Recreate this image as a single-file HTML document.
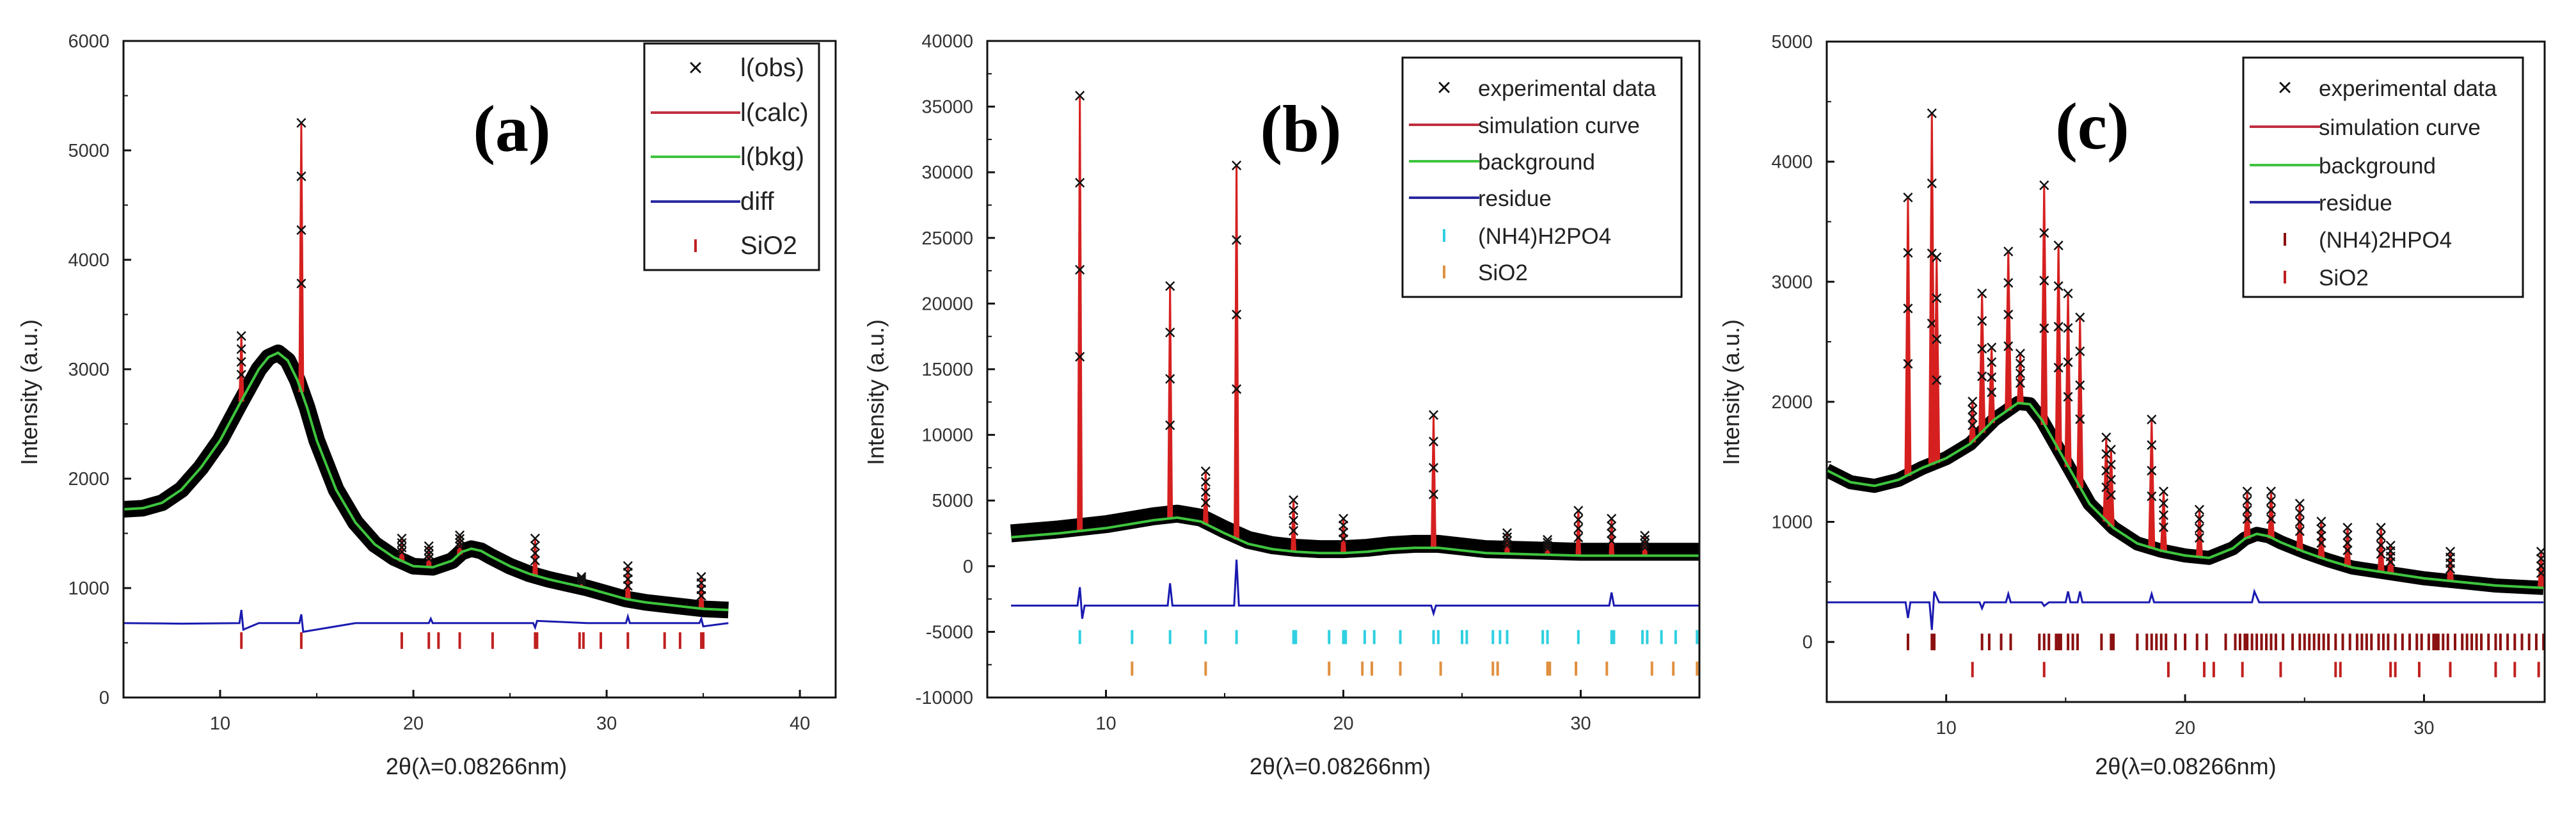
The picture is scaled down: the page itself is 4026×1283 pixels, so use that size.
<!DOCTYPE html>
<html><head><meta charset="utf-8"><style>
html,body{margin:0;padding:0;background:#fff;}
svg{display:block;font-family:"Liberation Sans",sans-serif;}
</style></head><body>
<svg id="fig" xmlns="http://www.w3.org/2000/svg" width="4026" height="1283" viewBox="0 0 4026 1283"></svg>
<script>
// ---------- Panel (a) data ----------
const aBkgX=[5,6,7,8,9,10,11,12,12.5,13,13.5,14,14.5,15,16,17,18,19,20,21,22,22.5,23,23.5,24,25,26,27,28,29,30,31,32,33,34,35,36.3];
const aBkgY=[1720,1730,1780,1900,2100,2350,2680,3000,3110,3150,3080,2900,2650,2350,1900,1600,1400,1280,1200,1190,1250,1330,1360,1340,1290,1200,1130,1080,1040,1000,950,900,870,850,830,810,800];
const aPeakX=[11.1,14.2,19.4,20.8,22.4,26.3,28.7,31.1,34.9];
const aPeakY=[3300,5250,1450,1380,1480,1450,1100,1200,1100];
const aDiffX=[5,8,11.0,11.1,11.2,12,14.1,14.2,14.3,17,20.8,20.9,21,26.2,26.3,26.4,29,31.0,31.1,31.2,34.8,34.9,35.0,36.3];
const aDiffY=[680,675,680,800,620,680,680,760,600,680,680,720,680,680,640,700,680,680,740,680,680,720,650,680];
const aTick1=[11.1,14.2,19.4,20.8,21.3,22.4,24.1,26.3,26.4,28.6,28.8,29.7,31.1,33.0,33.8,34.9,35.0];
const aYTicks=[0,1000,2000,3000,4000,5000,6000];
const aXTicks=[10,20,30,40];
// ---------- Panel (b) data ----------
const bBkgX=[6,8,10,12,13,14,15,16,17,18,19,20,21,22,23,24,25,26,28,30,32,35];
const bBkgY=[2200,2500,2900,3500,3700,3400,2500,1700,1300,1100,1000,1000,1100,1300,1400,1400,1200,1000,900,800,800,800];
const bPeakX=[8.9,12.7,14.2,15.5,17.9,20.0,23.8,26.9,28.6,29.9,31.3,32.7];
const bPeakY=[35800,21300,7200,30500,5000,3600,11500,2500,2000,4200,3600,2300];
const bDiffX=[6,8.8,8.9,9.0,9.1,12.6,12.7,12.8,15.4,15.5,15.6,23.7,23.8,23.9,31.2,31.3,31.4,35];
const bDiffY=[-3000,-3000,-1600,-4000,-3000,-3000,-1300,-3000,-3000,500,-3000,-3000,-3600,-3000,-3000,-2000,-3000,-3000];
const bTick1=[8.9,11.1,12.7,14.2,15.5,17.9,18.0,19.4,20.0,20.1,20.9,21.3,22.4,23.8,24.0,25.0,25.2,26.3,26.6,26.9,28.4,28.6,29.9,31.3,31.4,32.6,32.8,33.4,34.0,34.9];
const bTick2=[11.1,14.2,19.4,20.8,21.2,22.4,24.1,26.3,26.5,28.6,28.7,29.8,31.1,33.0,33.9,34.9];
const bYTicks=[-10000,-5000,0,5000,10000,15000,20000,25000,30000,35000,40000];
const bXTicks=[10,20,30];
// ---------- Panel (c) data ----------
const cBkgX=[5,6,7,8,9,10,11,12,13,13.5,14,15,16,17,18,19,20,21,22,22.5,23,23.5,24,25,26,27,28,29,30,31,32,33,34,35];
const cBkgY=[1430,1330,1300,1350,1450,1530,1650,1850,1990,1980,1850,1500,1150,950,820,760,720,700,780,860,900,880,830,750,680,620,590,560,530,510,490,470,460,450];
const cPeakX=[8.4,9.4,9.6,11.1,11.5,11.9,12.6,13.1,14.1,14.7,15.1,15.6,16.7,16.9,18.6,19.1,20.6,22.6,23.6,24.8,25.7,26.8,28.2,28.6,31.1,34.9];
const cPeakY=[3700,4400,3200,2000,2900,2450,3250,2400,3800,3300,2900,2700,1700,1600,1850,1250,1100,1250,1250,1150,1000,950,950,800,750,750];
const cDiffX=[5,8.3,8.4,8.5,9.3,9.4,9.5,9.7,11.4,11.5,11.6,12.5,12.6,12.7,14.0,14.1,14.3,15.0,15.1,15.2,15.5,15.6,15.7,18.5,18.6,18.7,22.8,22.9,23.1,35];
const cDiffY=[330,330,200,330,330,100,420,330,330,280,330,330,400,330,330,300,330,330,420,330,330,420,330,330,400,330,330,420,330,330];
const cTick1=[8.4,9.4,9.5,11.5,11.8,12.3,12.7,13.9,14.1,14.3,14.6,14.7,14.8,15.1,15.3,15.5,16.5,16.9,17.0,18.0,18.4,18.6,18.8,19.0,19.2,19.6,20.0,20.5,20.9,21.7,22.1,22.3,22.5,22.6,22.8,23.0,23.2,23.4,23.6,23.8,24.1,24.5,24.8,25.0,25.2,25.4,25.6,25.8,26.0,26.3,26.6,26.9,27.2,27.4,27.6,27.8,28.1,28.3,28.5,28.8,29.1,29.4,29.7,29.9,30.2,30.4,30.5,30.6,30.8,31.0,31.3,31.6,31.8,32.0,32.2,32.4,32.7,33.0,33.2,33.5,33.8,34.1,34.4,34.7,35.0];
const cTick2=[11.1,14.1,19.3,20.8,21.2,22.4,24.0,26.3,26.5,28.6,28.8,29.8,31.1,33.0,33.8,34.8];
const cYTicks=[0,1000,2000,3000,4000,5000];
const cXTicks=[10,20,30];

const NS="http://www.w3.org/2000/svg";
const svg=document.getElementById('fig');
function mk(tag,attrs,parent){const e=document.createElementNS(NS,tag);for(const k in attrs)e.setAttribute(k,attrs[k]);(parent||svg).appendChild(e);return e;}
function interp(xs,ys,x){if(x<=xs[0])return ys[0];for(let i=1;i<xs.length;i++){if(x<=xs[i]){const t=(x-xs[i-1])/(xs[i]-xs[i-1]);return ys[i-1]+t*(ys[i]-ys[i-1]);}}return ys[ys.length-1];}

function panel(P){
  const g=mk('g',{});
  
  
  const X=v=>P.L+(v-P.x0)/(P.x1-P.x0)*(P.R-P.L);
  const Y=v=>P.B-(v-P.y0)/(P.y1-P.y0)*(P.B-P.T);
  const clipId='clip-'+P.name;
  const cp=mk('clipPath',{id:clipId},g);mk('rect',{x:P.L,y:P.T,width:P.R-P.L,height:P.B-P.T},cp);
  const plot=mk('g',{'clip-path':'url(#'+clipId+')'},g);
  const bp=P.bkgX.map((x,i)=>X(x)+','+Y(P.bkgY[i]+P.obsOff)).join(' ');
  const band=mk('polyline',{points:bp,fill:'none',stroke:'#000','stroke-width':P.band,'stroke-linejoin':'round'},plot);
  
  
  P.peakX.forEach((px,i)=>{
    const base=interp(P.bkgX,P.bkgY,px);
    const top=P.peakY[i];
    const w=P.pw;
    const pk=mk('polygon',{points:(X(px)-w)+','+Y(base)+' '+X(px)+','+Y(top)+' '+(X(px)+w)+','+Y(base),fill:'#d62020',stroke:'#d62020','stroke-width':3},plot);
    
    
    [1,0.8,0.6,0.4].forEach(f=>{
      const yv=base+(top-base)*f;
      const t=mk('text',{x:X(px),y:Y(yv)+11,'font-size':34,'text-anchor':'middle',fill:'#111'},plot);t.textContent='×';
      
      
    });
  });
  const gl=mk('polyline',{points:P.bkgX.map((x,i)=>X(x)+','+Y(P.bkgY[i])).join(' '),fill:'none',stroke:'#3ec43e','stroke-width':4},plot);
  
  
  const dl=mk('polyline',{points:P.diffX.map((x,i)=>X(x)+','+Y(P.diffY[i])).join(' '),fill:'none',stroke:'#1a1ab0','stroke-width':3},plot);
  
  
  P.tickSets.forEach(ts=>{
    ts.pos.forEach(p=>{
      const t=mk('line',{x1:X(p),x2:X(p),y1:Y(ts.y)-ts.h,y2:Y(ts.y)+ts.h,stroke:ts.color,'stroke-width':4},plot);
      
      
    });
  });
  const fr=mk('rect',{x:P.L,y:P.T,width:P.R-P.L,height:P.B-P.T,fill:'none',stroke:'#111','stroke-width':3},g);
  
  
  P.yTicks.forEach((v,i)=>{
    mk('line',{x1:P.L,x2:P.L+12,y1:Y(v),y2:Y(v),stroke:'#111','stroke-width':3},g);
    if(i<P.yTicks.length-1){const m=(v+P.yTicks[i+1])/2;mk('line',{x1:P.L,x2:P.L+7,y1:Y(m),y2:Y(m),stroke:'#111','stroke-width':2},g);}
    const t=mk('text',{x:P.L-22,y:Y(v)+10,'font-size':29,'text-anchor':'end',fill:'#333'},g);t.textContent=v;
    
    
  });
  P.xTicks.forEach(v=>{
    mk('line',{x1:X(v),x2:X(v),y1:P.B,y2:P.B-12,stroke:'#111','stroke-width':3},g);
    mk('line',{x1:X(v-5),x2:X(v-5),y1:P.B,y2:P.B-7,stroke:'#111','stroke-width':2},g);
    const t=mk('text',{x:X(v),y:P.B+50,'font-size':29,'text-anchor':'middle',fill:'#333'},g);t.textContent=v;
    
    
  });
  const yt=mk('text',{x:P.ytx,y:613,'font-size':36,'text-anchor':'middle',fill:'#222',transform:'rotate(-90 '+P.ytx+' 613)'},g);
  yt.textContent='Intensity (a.u.)';
  
  
  const xt=mk('text',{x:(P.L+P.R)/2+P.xtOff,y:1210,'font-size':36,'text-anchor':'middle',fill:'#222'},g);
  xt.textContent='2θ(λ=0.08266nm)';
  
  
  const lb=mk('text',{x:P.lblX,y:P.lblY+36,'font-size':104,'font-weight':'bold','font-family':'Liberation Serif, serif','text-anchor':'middle',fill:'#000'},g);
  lb.textContent=P.label;
  
  
  const lg=mk('g',{},g);
  
  
  mk('rect',{x:P.lg.x,y:P.lg.y,width:P.lg.w,height:P.lg.h,fill:'#fff',stroke:'#111','stroke-width':3},lg);
  P.lg.rows.forEach((r,i)=>{
    const cy=P.lg.rowY[i];const sx=P.lg.x+P.lg.sym;
    if(r.t==='x'){const s=mk('text',{x:sx,y:cy+13,'font-size':40,'text-anchor':'middle',fill:'#111'},lg);s.textContent='×';}
    else if(r.t==='l'){mk('line',{x1:P.lg.x+10,x2:P.lg.x+2*P.lg.sym-10,y1:cy,y2:cy,stroke:r.c,'stroke-width':4},lg);}
    else{mk('line',{x1:sx,x2:sx,y1:cy-10,y2:cy+10,stroke:r.c,'stroke-width':4},lg);}
    const t=mk('text',{x:P.lg.x+P.lg.tx,y:cy+13,'font-size':P.lg.fs,fill:'#222'},lg);t.textContent=r.s;
    
    
  });
}

panel({name:'panel-a',label:'(a)',L:193,R:1306,T:64,B:1090,x0:5,x1:41.85,y0:0,y1:6000,
  bkgX:aBkgX,bkgY:aBkgY,obsOff:0,band:26,peakX:aPeakX,peakY:aPeakY,pw:3,diffX:aDiffX,diffY:aDiffY,
  tickSets:[{pos:aTick1,y:520,h:13,color:'#c02020'}],yTicks:aYTicks,xTicks:aXTicks,
  ytx:58,xtOff:-5,lblX:800,lblY:200,
  lg:{x:1007,y:68,w:273,h:354,sym:80,tx:150,fs:40,rowY:[106,176,245,315,384],
   rows:[{t:'x',s:'l(obs)'},{t:'l',c:'#c03040',s:'l(calc)'},{t:'l',c:'#3ec43e',s:'l(bkg)'},{t:'l',c:'#2a2aa0',s:'diff'},{t:'v',c:'#c02020',s:'SiO2'}]}});
panel({name:'panel-b',label:'(b)',L:1543,R:2656,T:64,B:1090,x0:5,x1:35,y0:-10000,y1:40000,
  bkgX:bBkgX,bkgY:bBkgY,obsOff:300,band:28,peakX:bPeakX,peakY:bPeakY,pw:3,diffX:bDiffX,diffY:bDiffY,
  tickSets:[{pos:bTick1,y:-5400,h:11,color:'#30d0e0'},{pos:bTick2,y:-7800,h:11,color:'#e09040'}],yTicks:bYTicks,xTicks:bXTicks,
  ytx:1381,xtOff:-5,lblX:2033,lblY:200,
  lg:{x:2192,y:90,w:436,h:374,sym:65,tx:118,fs:35,rowY:[137,195,252,309,368,425],
   rows:[{t:'x',s:'experimental data'},{t:'l',c:'#c03040',s:'simulation curve'},{t:'l',c:'#3ec43e',s:'background'},{t:'l',c:'#2a2aa0',s:'residue'},{t:'v',c:'#30d0e0',s:'(NH4)H2PO4'},{t:'v',c:'#e09040',s:'SiO2'}]}});
panel({name:'panel-c',label:'(c)',L:2855,R:3977,T:65,B:1097,x0:5,x1:35.05,y0:-500,y1:5000,
  bkgX:cBkgX,bkgY:cBkgY,obsOff:0,band:22,peakX:cPeakX,peakY:cPeakY,pw:4,diffX:cDiffX,diffY:cDiffY,
  tickSets:[{pos:cTick1,y:0,h:13,color:'#8b1010'},{pos:cTick2,y:-230,h:12,color:'#c02020'}],yTicks:cYTicks,xTicks:cXTicks,
  ytx:2718,xtOff:0,lblX:3270,lblY:196,
  lg:{x:3506,y:90,w:437,h:374,sym:65,tx:118,fs:35,rowY:[137,198,258,316,374,433],
   rows:[{t:'x',s:'experimental data'},{t:'l',c:'#c03040',s:'simulation curve'},{t:'l',c:'#3ec43e',s:'background'},{t:'l',c:'#2a2aa0',s:'residue'},{t:'v',c:'#8b1010',s:'(NH4)2HPO4'},{t:'v',c:'#c02020',s:'SiO2'}]}});
</script>
</body></html>
